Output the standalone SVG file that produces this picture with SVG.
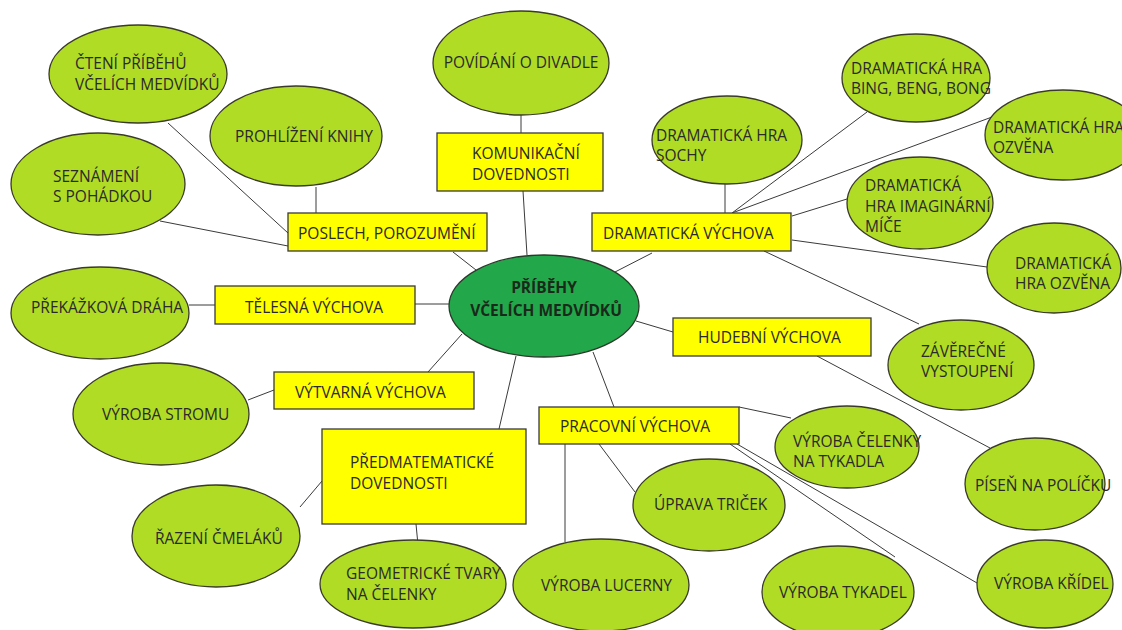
<svg xmlns="http://www.w3.org/2000/svg" width="1122" height="630" viewBox="0 0 1122 630">
<style>
.e{fill:#b0dc25;stroke:#3a3a2a;stroke-width:1.3}
.b{fill:#ffff00;stroke:#3a3a3a;stroke-width:1.3}
.c{fill:#22a84a;stroke:#2a3a2a;stroke-width:1.3}
text{font-family:"Open Sans","Liberation Sans",sans-serif;font-size:15.5px;fill:#2a2a2a}
.m{text-anchor:middle}
.t{font-weight:bold;font-size:15.5px;fill:#1a2a1a}
#conn line{stroke:#3a3a3a;stroke-width:1}
</style>
<rect width="1122" height="630" fill="#ffffff"/>
<g id="conn">
<line x1="168" y1="123" x2="288" y2="233"/>
<line x1="160" y1="221" x2="288" y2="246"/>
<line x1="316" y1="187" x2="316" y2="213"/>
<line x1="453" y1="252" x2="476" y2="270"/>
<line x1="521" y1="115" x2="521" y2="133"/>
<line x1="523" y1="191" x2="527" y2="255"/>
<line x1="652" y1="253" x2="615" y2="272"/>
<line x1="725" y1="184" x2="725" y2="213"/>
<line x1="732" y1="213" x2="867" y2="112"/>
<line x1="732" y1="213" x2="992" y2="117"/>
<line x1="792" y1="216" x2="847" y2="199"/>
<line x1="792" y1="240" x2="987" y2="267"/>
<line x1="764" y1="251" x2="919" y2="324"/>
<line x1="189" y1="305" x2="215" y2="305"/>
<line x1="415" y1="304" x2="449" y2="304"/>
<line x1="636" y1="321" x2="673" y2="332"/>
<line x1="817" y1="356" x2="990" y2="448"/>
<line x1="462" y1="334" x2="428" y2="372"/>
<line x1="248" y1="400" x2="274" y2="390"/>
<line x1="516" y1="356" x2="499" y2="429"/>
<line x1="300" y1="507" x2="322" y2="481"/>
<line x1="416" y1="524" x2="418" y2="545"/>
<line x1="593" y1="352" x2="614" y2="407"/>
<line x1="739" y1="407" x2="791" y2="418"/>
<line x1="599" y1="444" x2="635" y2="492"/>
<line x1="565" y1="444" x2="565" y2="542"/>
<line x1="730" y1="444" x2="895" y2="557"/>
<line x1="737" y1="444" x2="977" y2="583"/>
</g>
<g id="center"><ellipse class="c" cx="544" cy="306" rx="95" ry="51"/><text class="m t" x="544" y="292.5">PŘÍBĚHY</text><text class="m t" x="546" y="316">VČELÍCH MEDVÍDKŮ</text></g>
<g id="cteni"><ellipse class="e" cx="138" cy="74" rx="89" ry="49"/><text x="75" y="69">ČTENÍ PŘÍBĚHŮ</text><text x="75" y="90">VČELÍCH MEDVÍDKŮ</text></g>
<g id="prohlizeni"><ellipse class="e" cx="296" cy="136" rx="86" ry="50"/><text x="235" y="141.5">PROHLÍŽENÍ KNIHY</text></g>
<g id="seznameni"><ellipse class="e" cx="98" cy="184" rx="87" ry="51"/><text x="53" y="181.5">SEZNÁMENÍ</text><text x="53" y="201.5">S POHÁDKOU</text></g>
<g id="poslech"><rect class="b" x="288" y="213" width="199" height="38"/><text x="298" y="238.5">POSLECH, POROZUMĚNÍ</text></g>
<g id="povidani"><ellipse class="e" cx="521" cy="63" rx="88" ry="52"/><text class="m" x="521" y="67.5">POVÍDÁNÍ O DIVADLE</text></g>
<g id="komunikacni"><rect class="b" x="437" y="133" width="166" height="58"/><text x="472" y="158.5">KOMUNIKAČNÍ</text><text x="472" y="179.5">DOVEDNOSTI</text></g>
<g id="sochy"><ellipse class="e" cx="727" cy="140" rx="75" ry="44"/><text x="656" y="140.5">DRAMATICKÁ HRA</text><text x="656" y="160.5">SOCHY</text></g>
<g id="dramaticka"><rect class="b" x="592" y="213" width="199" height="38"/><text x="603" y="238.5">DRAMATICKÁ VÝCHOVA</text></g>
<g id="bing"><ellipse class="e" cx="916" cy="78" rx="74" ry="44"/><text x="851" y="73.5">DRAMATICKÁ HRA</text><text x="851" y="93.5">BING, BENG, BONG</text></g>
<g id="ozvena1"><ellipse class="e" cx="1063" cy="135" rx="78" ry="45"/><text x="993" y="132.5">DRAMATICKÁ HRA</text><text x="993" y="152.5">OZVĚNA</text></g>
<g id="imaginarni"><ellipse class="e" cx="920" cy="203" rx="73" ry="46"/><text x="865" y="190.5">DRAMATICKÁ</text><text x="865" y="211.5">HRA IMAGINÁRNÍ</text><text x="865" y="231.5">MÍČE</text></g>
<g id="ozvena2"><ellipse class="e" cx="1054" cy="268" rx="67" ry="45"/><text x="1015" y="268.5">DRAMATICKÁ</text><text x="1015" y="288.5">HRA OZVĚNA</text></g>
<g id="prekazkova"><ellipse class="e" cx="100" cy="313" rx="89" ry="46"/><text x="31" y="312.5">PŘEKÁŽKOVÁ DRÁHA</text></g>
<g id="telesna"><rect class="b" x="215" y="286" width="200" height="38"/><text x="245" y="313">TĚLESNÁ VÝCHOVA</text></g>
<g id="hudebni"><rect class="b" x="673" y="318" width="198" height="38"/><text x="698" y="343">HUDEBNÍ VÝCHOVA</text></g>
<g id="zaverecne"><ellipse class="e" cx="961" cy="365" rx="73" ry="45"/><text x="921" y="356.5">ZÁVĚREČNÉ</text><text x="921" y="376.5">VYSTOUPENÍ</text></g>
<g id="pisen"><ellipse class="e" cx="1035" cy="484" rx="70" ry="46"/><text x="975" y="490.5">PÍSEŇ NA POLÍČKU</text></g>
<g id="vytvarna"><rect class="b" x="274" y="372" width="200" height="37"/><text x="295" y="397.5">VÝTVARNÁ VÝCHOVA</text></g>
<g id="stromu"><ellipse class="e" cx="161" cy="414" rx="88" ry="51"/><text x="102" y="419.5">VÝROBA STROMU</text></g>
<g id="predmatematicke"><rect class="b" x="322" y="429" width="204" height="95"/><text x="350" y="467.5">PŘEDMATEMATICKÉ</text><text x="350" y="488.5">DOVEDNOSTI</text></g>
<g id="razeni"><ellipse class="e" cx="216" cy="536" rx="84" ry="51"/><text x="155" y="543.5">ŘAZENÍ ČMELÁKŮ</text></g>
<g id="geometricke"><ellipse class="e" cx="413" cy="584" rx="93" ry="44"/><text x="346" y="578.5">GEOMETRICKÉ TVARY</text><text x="346" y="599.5">NA ČELENKY</text></g>
<g id="pracovni"><rect class="b" x="539" y="407" width="200" height="37"/><text x="560" y="431.5">PRACOVNÍ VÝCHOVA</text></g>
<g id="celenky"><ellipse class="e" cx="847" cy="447" rx="72" ry="41"/><text x="793" y="446.5">VÝROBA ČELENKY</text><text x="793" y="466.5">NA TYKADLA</text></g>
<g id="uprava"><ellipse class="e" cx="709" cy="505" rx="76" ry="46"/><text x="654" y="509.5">ÚPRAVA TRIČEK</text></g>
<g id="lucerny"><ellipse class="e" cx="601" cy="585" rx="88" ry="46"/><text x="541" y="590.5">VÝROBA LUCERNY</text></g>
<g id="tykadel"><ellipse class="e" cx="838" cy="592" rx="76" ry="46"/><text x="779" y="597.5">VÝROBA TYKADEL</text></g>
<g id="kridel"><ellipse class="e" cx="1045" cy="584" rx="68" ry="44"/><text x="994" y="588.5">VÝROBA KŘÍDEL</text></g>
</svg>
